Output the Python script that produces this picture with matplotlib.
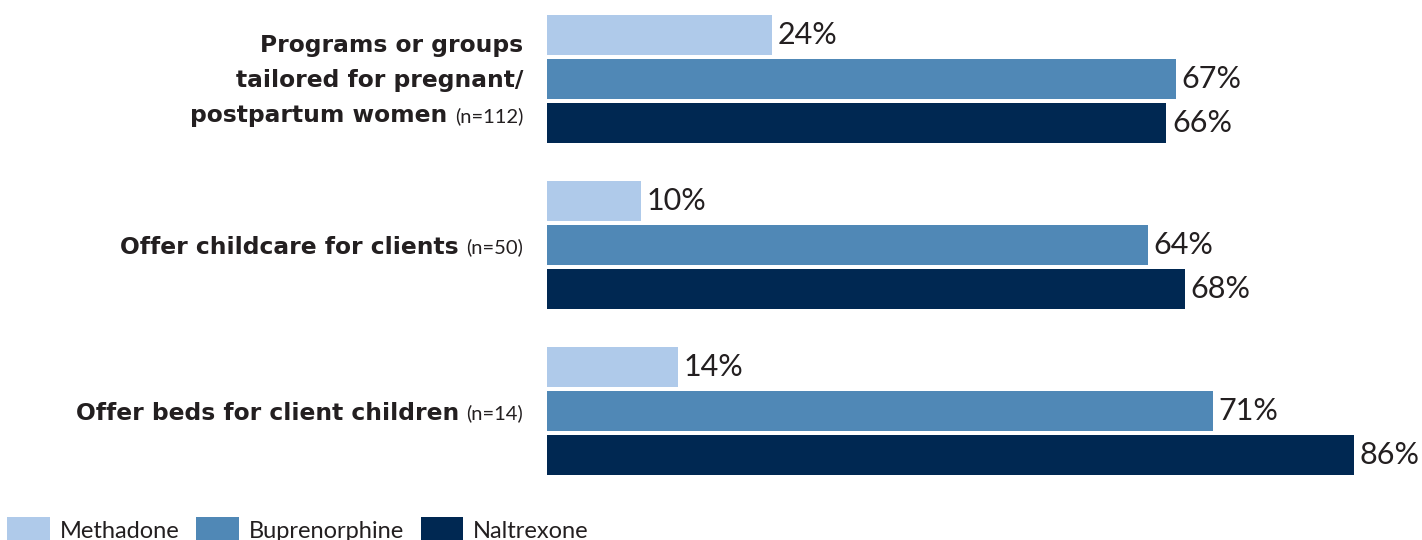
import matplotlib
matplotlib.use("Agg")
import matplotlib.pyplot as plt
from matplotlib.patches import Patch
import numpy as np

series = ["Methadone", "Buprenorphine", "Naltrexone"]
colors = ["#AFCAEA", "#5088B6", "#002852"]
label_bold = [
    ["Programs or groups", "tailored for pregnant/", "postpartum women"],
    ["Offer childcare for clients"],
    ["Offer beds for client children"],
]
label_n = ["(n=112)", "(n=50)", "(n=14)"]
values = {
    "Methadone": [24, 10, 14],
    "Buprenorphine": [67, 64, 71],
    "Naltrexone": [66, 68, 86],
}

W, H = 1422, 540
fig = plt.figure(figsize=(W / 100, H / 100), dpi=100)
plt.rcParams["font.family"] = ["Lato", "DejaVu Sans"]

# axes spans x 547..1422 px, y 0..500 px
ax = fig.add_axes([547 / W, 40 / H, 875 / W, 500 / H])
px_per_pct = (1354 - 547) / 86
ax.set_xlim(0, 875 / px_per_pct)
bar_pitch = 44.0
group_pitch = 166 / bar_pitch
bar_h = 40 / bar_pitch
top = -1 - bar_h / 2 - 15 / bar_pitch
ax.set_ylim(top + 500 / bar_pitch, top)
ax.axis("off")

centers = np.arange(len(label_n)) * group_pitch
for j, name in enumerate(series):
    ys = centers + (j - 1)
    bars = ax.barh(ys, values[name], height=bar_h, color=colors[j], linewidth=0)
    for y, v in zip(ys, values[name]):
        ax.text(v + 0.6, y, f"{v}%", va="center", ha="left", fontsize=22,
                color="#231F20", clip_on=False)

fig.canvas.draw()
renderer = fig.canvas.get_renderer()
x_right = 523
line_gap = 35
for i, (lines, n) in enumerate(zip(label_bold, label_n)):
    yc = ax.transData.transform((0, centers[i]))[1] - 2
    k = len(lines)
    for li, line in enumerate(lines):
        y = yc + (k - 1) / 2 * line_gap - li * line_gap
        if li == k - 1:
            t = fig.text(x_right / W, y / H, n, ha="right", va="center",
                         fontsize=14.5, color="#231F20")
            ext = t.get_window_extent(renderer)
            xr = ext.x0 - 7
        else:
            xr = x_right
        fig.text(xr / W, y / H, line, ha="right", va="center", fontsize=16.8,
                 fontweight="bold", color="#231F20", family="DejaVu Sans")

handles = [Patch(facecolor=c, edgecolor="none", label=s) for s, c in zip(series, colors)]
fig.legend(handles=handles, loc="lower left", bbox_to_anchor=(0.0, -0.018), ncol=3,
           frameon=False, fontsize=17, handlelength=1.8, handleheight=1.3,
           handletextpad=0.42, columnspacing=0.72, borderaxespad=0.0, borderpad=0.3,
           labelcolor="#231F20")

fig.savefig("out.png", dpi=100)
